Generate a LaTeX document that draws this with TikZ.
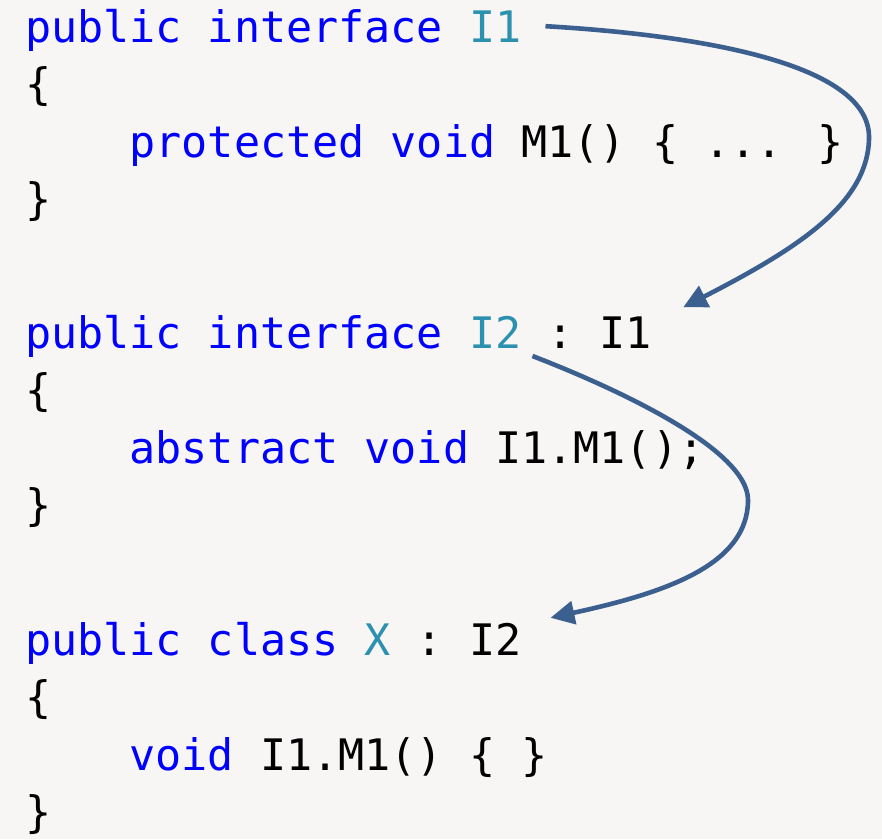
\documentclass[tikz,border=0pt]{standalone}
\usepackage{fontspec}
\usetikzlibrary{arrows.meta}
\newfontfamily\codefont{DejaVu Sans Mono}

\definecolor{pagebg}{RGB}{248,245,245}
\definecolor{kwblue}{RGB}{0,0,255}
\definecolor{typeteal}{RGB}{43,145,175}
\definecolor{linkblue}{RGB}{59,95,142}

\begin{document}
\begin{tikzpicture}[x=1pt,y=-1pt,
  code/.style={anchor=base west,inner sep=0pt,outer sep=0pt,
    font=\codefont\fontsize{43.4pt}{52pt}\selectfont},
  kw/.style={code,text=kwblue},
  ty/.style={code,text=typeteal},
  plain/.style={code,text=black},
  link/.style={draw=linkblue,line width=4.6pt,
    -{Triangle[length=24pt,width=23pt]}}]

% page
\fill[pagebg] (0,0) rectangle (882,839);
\useasboundingbox (0,0) rectangle (882,839);

% column grid: x = 25 + 26.13 * column
\def\cx#1{25+26.13*#1}

% interface I1
\node[kw]    (l0kw) at ({\cx{0}},42)    {public interface};
\node[ty]    (I1a)  at ({\cx{17}},42)   {I1};
\node[plain] (l1)   at ({\cx{0}},99.5)  {\{};
\node[kw]    (l2kw) at ({\cx{4}},157)   {protected void};
\node[plain] (l2tx) at ({\cx{19}},157)  {M1() \{ ... \}};
\node[plain] (l3)   at ({\cx{0}},214.5) {\}};

% interface I2
\node[kw]    (l5kw) at ({\cx{0}},348)   {public interface};
\node[ty]    (I2a)  at ({\cx{17}},348)  {I2};
\node[plain] (l5c)  at ({\cx{20}},348)  {:};
\node[plain] (I1b)  at ({\cx{22}},348)  {I1};
\node[plain] (l6)   at ({\cx{0}},405.5) {\{};
\node[kw]    (l7kw) at ({\cx{4}},463)   {abstract void};
\node[plain] (l7tx) at ({\cx{18}},463)  {I1.M1();};
\node[plain] (l8)   at ({\cx{0}},520.5) {\}};

% class X
\node[kw]    (l10kw) at ({\cx{0}},655)   {public class};
\node[ty]    (Xa)    at ({\cx{13}},655)  {X};
\node[plain] (l10c)  at ({\cx{15}},655)  {:};
\node[plain] (I2b)   at ({\cx{17}},655)  {I2};
\node[plain] (l11)   at ({\cx{0}},712.5) {\{};
\node[kw]    (l12kw) at ({\cx{4}},770)   {void};
\node[plain] (l12tx) at ({\cx{9}},770)   {I1.M1() \{ \}};
\node[plain] (l13)   at ({\cx{0}},827.5) {\}};

% inheritance links
\coordinate (bendA) at (869,137);
\coordinate (bendB) at (748,500);

\draw[link] ([xshift=24pt]I1a.east)
  .. controls +(170,10) and +(0,-70) .. (bendA)
  .. controls +(0,65) and +(117,-60) .. ([xshift=31pt,yshift=9pt]I1b.north east);

\draw[link] ([xshift=11pt,yshift=-8pt]I2a.south east)
  .. controls +(88,34) and +(0,-50) .. (bendB)
  .. controls +(0,65) and +(115,-25) .. ([xshift=29pt,yshift=5pt]I2b.north east);

\end{tikzpicture}
\end{document}
